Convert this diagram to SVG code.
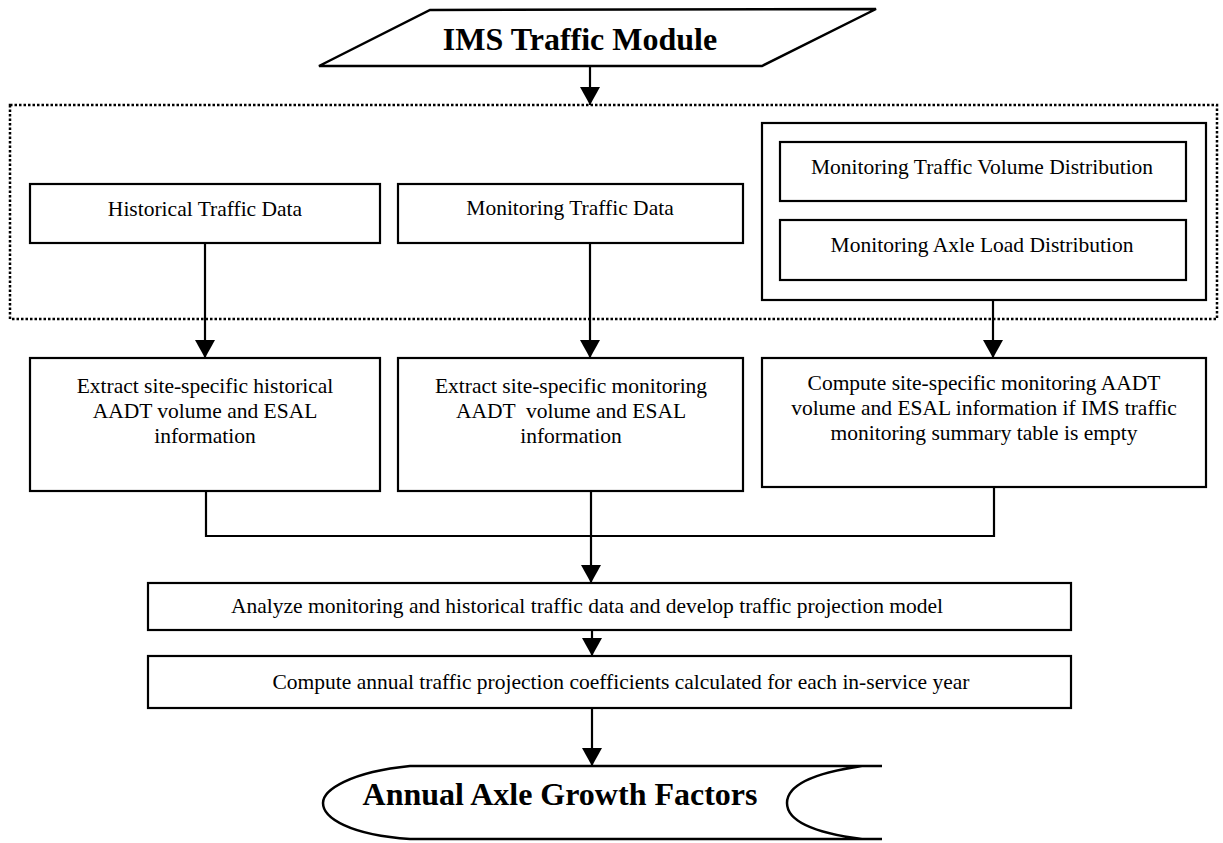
<svg xmlns="http://www.w3.org/2000/svg" width="1223" height="843" viewBox="0 0 1223 843">
<defs>
<style>
.box{fill:#fff;stroke:#000;stroke-width:2.2}
.t{font-family:"Liberation Serif","Times New Roman",serif;font-size:21.5px;fill:#000;text-anchor:middle}
.b{font-family:"Liberation Serif","Times New Roman",serif;font-weight:bold;font-size:32px;fill:#000;text-anchor:middle}
.ln{fill:none;stroke:#000;stroke-width:2.2}
.dot{fill:none;stroke:#000;stroke-width:2.5;stroke-dasharray:2.5 2}
</style>
<marker id="ah" markerUnits="userSpaceOnUse" markerWidth="18" markerHeight="20" viewBox="0 0 18 20" refX="18" refY="10" orient="auto">
<path d="M0,0 L18,10 L0,20 Z" fill="#000"/>
</marker>
</defs>
<rect width="1223" height="843" fill="#fff"/>

<g id="container">
<rect class="dot" x="10" y="105" width="1207" height="214"/>
</g>

<g id="ims">
<polygon class="box" points="430,10 876,9 762,66 319,66" style="stroke-width:2.5"/>
<text class="b" x="580" y="50">IMS Traffic Module</text>
</g>

<g id="historical">
<rect class="box" x="30" y="184" width="350" height="59"/>
<text class="t" x="205" y="216">Historical Traffic Data</text>
</g>

<g id="monitoring">
<rect class="box" x="398" y="184" width="345" height="59"/>
<text class="t" x="570" y="215">Monitoring Traffic Data</text>
</g>

<g id="distribution">
<rect class="box" x="762" y="123" width="444" height="177"/>
<rect class="box" x="780" y="142" width="406" height="59"/>
<text class="t" x="982" y="174">Monitoring Traffic Volume Distribution</text>
<rect class="box" x="780" y="220" width="406" height="60"/>
<text class="t" x="982" y="252">Monitoring Axle Load Distribution</text>
</g>

<g id="extract-historical">
<rect class="box" x="30" y="358" width="350" height="133"/>
<text class="t" x="205" y="393">Extract site-specific historical</text>
<text class="t" x="205" y="418">AADT volume and ESAL</text>
<text class="t" x="205" y="443">information</text>
</g>

<g id="extract-monitoring">
<rect class="box" x="398" y="358" width="345" height="133"/>
<text class="t" x="571" y="393">Extract site-specific monitoring</text>
<text class="t" x="571" y="418" style="white-space:pre">AADT  volume and ESAL</text>
<text class="t" x="571" y="443">information</text>
</g>

<g id="compute-monitoring">
<rect class="box" x="762" y="358" width="444" height="129"/>
<text class="t" x="984" y="390">Compute site-specific monitoring AADT</text>
<text class="t" x="984" y="415">volume and ESAL information if IMS traffic</text>
<text class="t" x="984" y="440">monitoring summary table is empty</text>
</g>

<g id="analyze">
<rect class="box" x="148" y="583" width="923" height="47"/>
<text class="t" x="587" y="613">Analyze monitoring and historical traffic data and develop traffic projection model</text>
</g>

<g id="coefficients">
<rect class="box" x="148" y="656" width="923" height="52"/>
<text class="t" x="621" y="689">Compute annual traffic projection coefficients calculated for each in-service year</text>
</g>

<g id="growth">
<path d="M410,766 L862,766 C800,775 787,790 787,803 C787,816 800,831 862,839 L410,839 C350,835 323,818 323,803 C323,790 350,772 410,766 Z" fill="#fff" stroke="none"/>
<path class="ln" d="M323,803 C323,790 350,772 410,766 L882,766 M862,766 C800,775 787,790 787,803 C787,816 800,831 862,839 M882,839 L410,839 C350,835 323,818 323,803" style="stroke-width:2.5"/>
<text class="b" x="560" y="805">Annual Axle Growth Factors</text>
</g>

<g id="connectors">
<line class="ln" x1="590" y1="66" x2="590" y2="105" marker-end="url(#ah)"/>
<line class="ln" x1="205" y1="243" x2="205" y2="358" marker-end="url(#ah)"/>
<line class="ln" x1="590" y1="243" x2="590" y2="358" marker-end="url(#ah)"/>
<line class="ln" x1="993" y1="300" x2="993" y2="358" marker-end="url(#ah)"/>
<polyline class="ln" points="206,491 206,536 994,536 994,487"/>
<line class="ln" x1="591" y1="491" x2="591" y2="583" marker-end="url(#ah)"/>
<line class="ln" x1="592" y1="630" x2="592" y2="656" marker-end="url(#ah)"/>
<line class="ln" x1="592" y1="708" x2="592" y2="766" marker-end="url(#ah)"/>
</g>
</svg>
